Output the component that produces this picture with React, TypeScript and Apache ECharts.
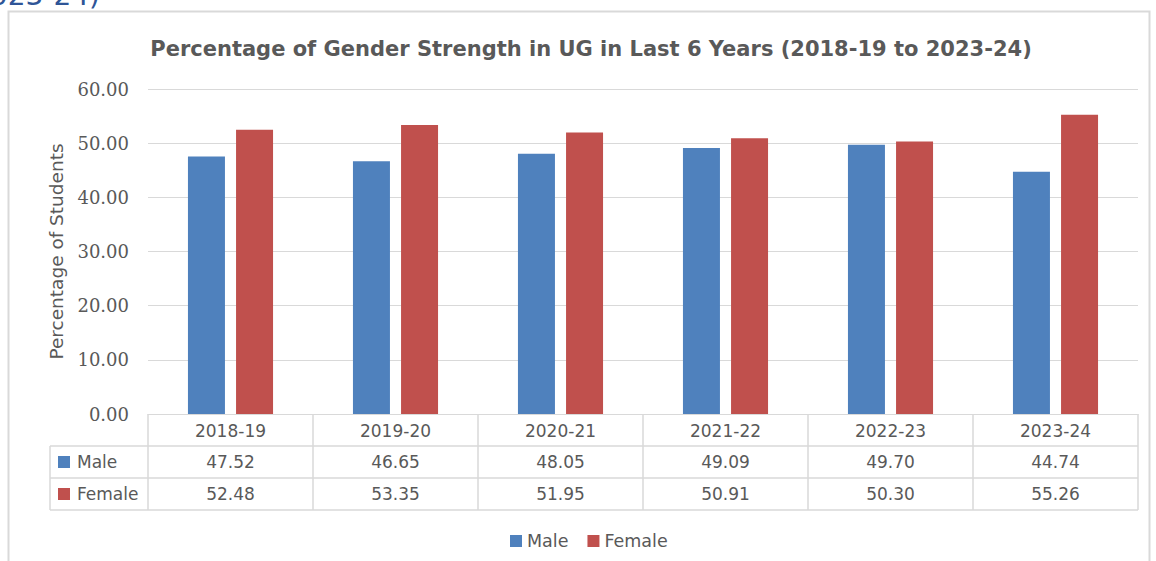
import React, { useEffect, useRef } from "react";
import * as echarts from "echarts";

const categories = ["2018-19", "2019-20", "2020-21", "2021-22", "2022-23", "2023-24"];
const maleValues = [47.52, 46.65, 48.05, 49.09, 49.7, 44.74];
const femaleValues = [52.48, 53.35, 51.95, 50.91, 50.3, 55.26];
const seriesNames = ["Male", "Female"];
const seriesColors = ["#4f81bd", "#c0504d"];
const yTicks = { min: 0, max: 60, interval: 10 };
const titleText = "Percentage of Gender Strength in UG in Last 6 Years (2018-19 to 2023-24)";
const yAxisTitle = "Percentage of Students";
const headingFragment = "2023-24)";

const W = 1156;
const H = 561;
const GRID = { left: 148, right: 18, top: 89, bottom: 147 };
const ROW_H = 32;
const TEXT = "#595959";
const LINE = "#d9d9d9";
const SANS = "DejaVu Sans";

export default function App() {
  const ref = useRef<HTMLDivElement>(null);
  useEffect(() => {
    document.body.style.margin = "0";
    const el = ref.current!;
    const chart = echarts.init(el, null, { renderer: "svg", width: W, height: H });
    const rows = [maleValues, femaleValues];
    chart.setOption({
      animation: false,
      backgroundColor: "#ffffff",
      title: {
        text: titleText,
        left: 586,
        top: 33,
        textAlign: "center",
        textStyle: { fontFamily: SANS, fontWeight: "bold", fontSize: 21, color: TEXT },
      },
      legend: {
        data: seriesNames,
        left: 505,
        top: 527,
        icon: "rect",
        itemWidth: 12,
        itemHeight: 12,
        itemGap: 19,
        textStyle: { fontFamily: SANS, fontSize: 17.5, color: TEXT },
      },
      grid: GRID,
      xAxis: {
        type: "category",
        data: categories,
        axisLine: { lineStyle: { color: LINE } },
        axisTick: { show: false },
        splitLine: { show: false },
        axisLabel: { margin: 8, fontFamily: SANS, fontSize: 17, color: TEXT },
      },
      yAxis: {
        type: "value",
        min: yTicks.min,
        max: yTicks.max,
        interval: yTicks.interval,
        name: yAxisTitle,
        nameLocation: "middle",
        nameRotate: 90,
        nameGap: 82,
        nameTextStyle: { fontFamily: SANS, fontSize: 18.5, color: TEXT },
        axisLine: { show: false },
        axisTick: { show: false },
        splitLine: { lineStyle: { color: LINE, width: 1 } },
        axisLabel: {
          margin: 19,
          fontFamily: "DejaVu Serif",
          fontSize: 18,
          color: TEXT,
          formatter: (v: number) => v.toFixed(2),
        },
      },
      series: [
        {
          name: seriesNames[0],
          type: "bar",
          data: maleValues,
          barWidth: 37,
          barGap: "30%",
          itemStyle: { color: seriesColors[0] },
        },
        {
          name: seriesNames[1],
          type: "bar",
          data: femaleValues,
          barWidth: 37,
          barGap: "30%",
          itemStyle: { color: seriesColors[1] },
        },
      ],
    });

    const c0 = chart.convertToPixel({ xAxisIndex: 0 }, 0) as number;
    const c1 = chart.convertToPixel({ xAxisIndex: 0 }, 1) as number;
    const band = c1 - c0;
    const x0 = c0 - band / 2;
    const xEnd = x0 + band * categories.length;
    const yTop = chart.convertToPixel({ yAxisIndex: 0 }, 0) as number;
    const tableLeft = 50;
    const lineStyle = { stroke: LINE, lineWidth: 1.5 };
    const els: any[] = [];
    els.push({
      type: "rect",
      shape: { x: 8.5, y: 11.5, width: 1141, height: 600 },
      style: { fill: "none", stroke: LINE, lineWidth: 2 },
      silent: true,
    });
    for (let i = 0; i <= categories.length; i++) {
      const x = x0 + band * i;
      els.push({ type: "line", shape: { x1: x, y1: yTop, x2: x, y2: yTop + ROW_H * 3 }, style: lineStyle });
    }
    els.push({ type: "line", shape: { x1: tableLeft, y1: yTop + ROW_H, x2: tableLeft, y2: yTop + ROW_H * 3 }, style: lineStyle });
    for (let r = 1; r <= 3; r++) {
      const y = yTop + ROW_H * r;
      els.push({ type: "line", shape: { x1: tableLeft, y1: y, x2: xEnd, y2: y }, style: lineStyle });
    }
    rows.forEach((vals, r) => {
      const cy = yTop + ROW_H * (r + 1) + ROW_H / 2;
      els.push({ type: "rect", shape: { x: 58, y: cy - 6, width: 12, height: 12 }, style: { fill: seriesColors[r] } });
      els.push({
        type: "text",
        x: 77,
        y: cy,
        style: { text: seriesNames[r], fontFamily: SANS, fontSize: 17, fill: TEXT, verticalAlign: "middle", textAlign: "left" },
      });
      vals.forEach((v, i) => {
        const cx = chart.convertToPixel({ xAxisIndex: 0 }, i) as number;
        els.push({
          type: "text",
          x: cx,
          y: cy,
          style: { text: v.toFixed(2), fontFamily: SANS, fontSize: 17, fill: TEXT, verticalAlign: "middle", textAlign: "center" },
        });
      });
    });
    els.push({
      type: "text",
      x: 100,
      y: 9,
      style: { text: headingFragment, fontFamily: SANS, fontSize: 28, fill: "#2f5597", textAlign: "right", textVerticalAlign: "bottom" },
    });
    chart.setOption({ graphic: { elements: els } });
    return () => chart.dispose();
  }, []);
  return <div ref={ref} style={{ width: W, height: H }} />;
}
